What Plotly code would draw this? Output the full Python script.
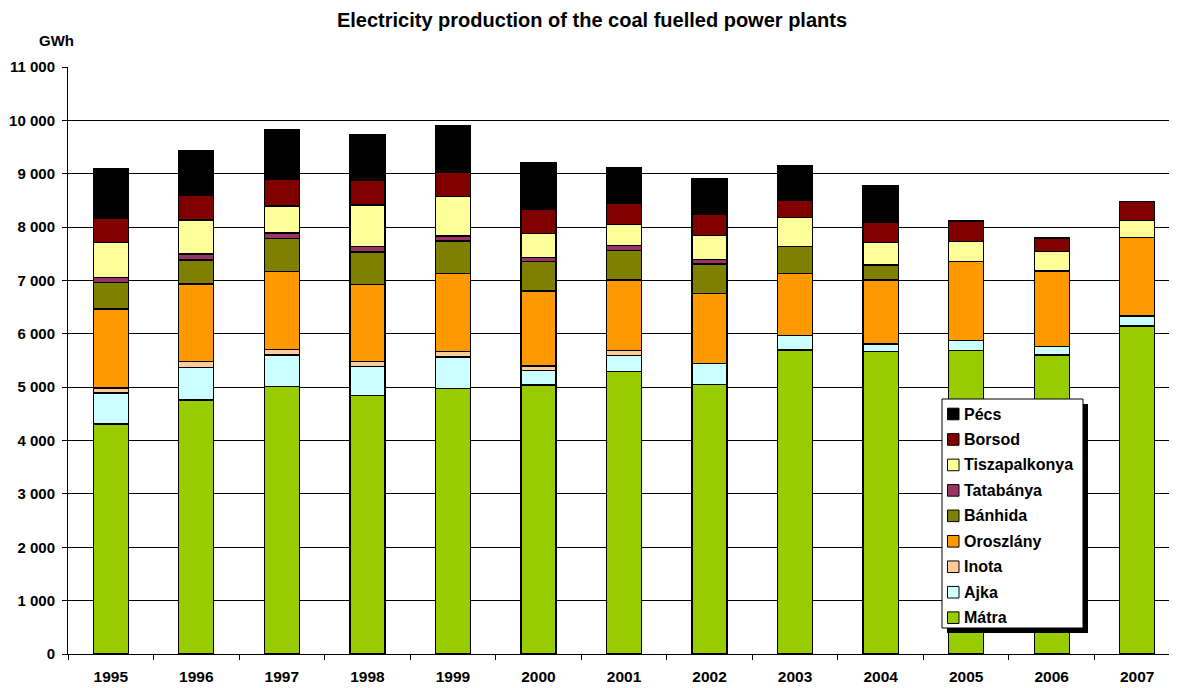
import plotly.graph_objects as go

years = ["1995", "1996", "1997", "1998", "1999", "2000", "2001",
         "2002", "2003", "2004", "2005", "2006", "2007"]

matra = [4310, 4760, 5010, 4848, 4979, 5041, 5298, 5047, 5697, 5673, 5684, 5603, 6147]
ajka = [581, 606, 593, 536, 587, 269, 292, 400, 269, 137, 188, 156, 187]
inota = [94, 112, 100, 94, 99, 87, 94, 0, 0, 0, 0, 0, 0]
oroszlany = [1480, 1456, 1469, 1443, 1469, 1406, 1325, 1305, 1168, 1199, 1480, 1419, 1468]
banhida = [494, 450, 611, 613, 606, 549, 556, 557, 499, 281, 0, 0, 0]
tatabanya = [93, 112, 107, 99, 94, 82, 87, 87, 0, 0, 0, 0, 0]
tiszapalkonya = [656, 637, 506, 782, 743, 450, 401, 444, 544, 418, 375, 362, 319]
borsod = [450, 457, 494, 455, 456, 450, 386, 393, 331, 382, 388, 256, 356]
pecs = [937, 837, 930, 869, 862, 881, 675, 682, 644, 687, 0, 0, 0]

series_names = ["Mátra", "Ajka", "Inota", "Oroszlány", "Bánhida",
                "Tatabánya", "Tiszapalkonya", "Borsod", "Pécs"]
series_values = [matra, ajka, inota, oroszlany, banhida,
                 tatabanya, tiszapalkonya, borsod, pecs]
series_colors = ["#99CC00", "#CCFFFF", "#FFCC99", "#FF9900", "#808000",
                 "#993366", "#FFFF99", "#800000", "#000000"]

ytick_vals = [0, 1000, 2000, 3000, 4000, 5000, 6000, 7000, 8000, 9000, 10000, 11000]
ytick_text = ["0", "1 000", "2 000", "3 000", "4 000", "5 000", "6 000",
              "7 000", "8 000", "9 000", "10 000", "11 000"]

FONT = "Arial, Liberation Sans, sans-serif"

# page body has an 8px margin: figure coordinates = window coordinates - 8
FIG_W, FIG_H = 1177, 688
ML, MT, MR, MB = 60, 59, 5, 42
PLOT_W = FIG_W - ML - MR
PLOT_H = FIG_H - MT - MB
OFF = 8


def px(wx):  # window x pixel -> paper x
    return (wx - OFF - ML) / PLOT_W


def py(wy):  # window y pixel -> paper y
    return (FIG_H - MB - (wy - OFF)) / PLOT_H


fig = go.Figure()
for name, vals, color in zip(series_names, series_values, series_colors):
    fig.add_trace(go.Bar(
        x=years, y=vals, name=name, showlegend=False,
        marker=dict(color=color, line=dict(color="#000000", width=1.3)),
    ))

# hand-drawn legend box (Excel style, with shadow)
shapes = [
    dict(type="rect", xref="paper", yref="paper",
         x0=px(947), x1=px(1088), y0=py(633), y1=py(404),
         fillcolor="#000000", line=dict(width=0), layer="above"),
    dict(type="rect", xref="paper", yref="paper",
         x0=px(942), x1=px(1083), y0=py(628), y1=py(399),
         fillcolor="#FFFFFF", line=dict(color="#000000", width=1), layer="above"),
]
annotations = [dict(
    text="<b>GWh</b>", xref="paper", yref="paper", x=px(56.5), y=py(40),
    xanchor="center", yanchor="middle", showarrow=False,
    font=dict(size=15, family=FONT, color="#000000"),
)]
legend_items = list(zip(series_names, series_colors))[::-1]
for i, (name, color) in enumerate(legend_items):
    cy = 414 + i * 25.46
    shapes.append(dict(
        type="rect", xref="paper", yref="paper",
        x0=px(947.5), x1=px(959), y0=py(cy + 5.8), y1=py(cy - 5.8),
        fillcolor=color, line=dict(color="#000000", width=1), layer="above"))
    annotations.append(dict(
        text="<b>" + name + "</b>", xref="paper", yref="paper",
        x=px(962), y=py(cy), xanchor="left", yanchor="middle", showarrow=False,
        font=dict(size=16, family=FONT, color="#000000")))

fig.update_layout(
    width=FIG_W, height=FIG_H,
    barmode="stack", bargap=0.59,
    plot_bgcolor="white", paper_bgcolor="white",
    margin=dict(l=ML, r=MR, t=MT, b=MB, autoexpand=False),
    font=dict(family=FONT, color="#000000"),
    title=dict(text="<b>Electricity production of the coal fuelled power plants</b>",
               xref="paper", x=px(592), xanchor="center",
               yref="container", y=1 - (20 - OFF) / FIG_H, yanchor="middle",
               font=dict(size=20, family=FONT, color="#000000")),
    showlegend=False,
    xaxis=dict(
        type="category", showline=True, linecolor="#000000", linewidth=1,
        ticks="outside", tickson="boundaries", ticklen=5, tickcolor="#000000",
        ticklabelstandoff=8,
        tickfont=dict(size=15.5, family=FONT, color="#000000", weight="bold"),
        showgrid=False,
    ),
    yaxis=dict(
        range=[0, 11000], tickvals=ytick_vals, ticktext=ytick_text,
        showline=True, linecolor="#000000", linewidth=1,
        ticks="outside", ticklen=5, tickcolor="#000000",
        ticklabelstandoff=4,
        showgrid=True, gridcolor="#000000", gridwidth=1,
        tickfont=dict(size=15, family=FONT, color="#000000", weight="bold"),
        zeroline=False,
    ),
    annotations=annotations,
    shapes=shapes,
)

fig.write_html("out.html")
